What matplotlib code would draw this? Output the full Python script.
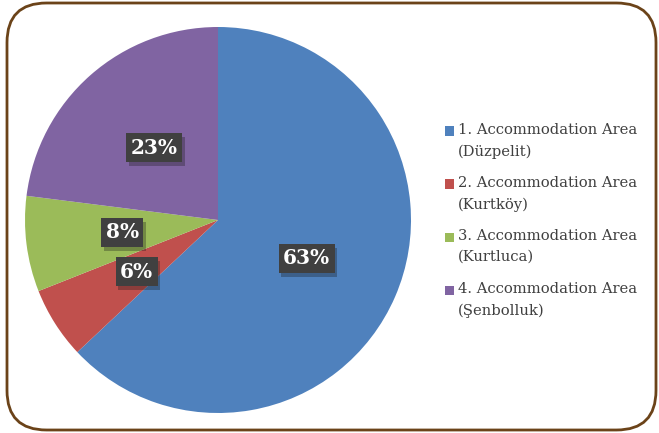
import matplotlib
matplotlib.use("Agg")
import matplotlib.pyplot as plt
import matplotlib.patheffects as pe
from matplotlib.patches import FancyBboxPatch, Rectangle

# data
areas = ["1. Accommodation Area\n(Düzpelit)",
         "2. Accommodation Area\n(Kurtköy)",
         "3. Accommodation Area\n(Kurtluca)",
         "4. Accommodation Area\n(Şenbolluk)"]
shares = [63, 6, 8, 23]
colors = ["#4F81BD", "#C0504D", "#9BBB59", "#8064A2"]

W, H = 659, 433
fig = plt.figure(figsize=(W / 100, H / 100), dpi=100)
fig.patch.set_facecolor("white")

# rounded brown frame
frame = FancyBboxPatch((7 / W, 3 / H), 649 / W, 427 / H,
                       boxstyle="round,pad=0,rounding_size=0.06",
                       transform=fig.transFigure, facecolor="none",
                       edgecolor="#6B4319", linewidth=2, mutation_aspect=W / H)
fig.patches.append(frame)

cx, cy, r = 218, 220, 193
ax = fig.add_axes([(cx - r) / W, (H - cy - r) / H, 2 * r / W, 2 * r / H])
wedges, texts, autotexts = ax.pie(shares, colors=colors, startangle=90,
                                  counterclock=False, radius=1,
                                  autopct="%d%%", pctdistance=0.5,
                                  wedgeprops=dict(linewidth=0))
ax.set_xlim(-1, 1)
ax.set_ylim(-1, 1)
ax.set_aspect("equal")

for t in autotexts:
    t.set_fontsize(14.5)
    t.set_fontweight("bold")
    t.set_family("DejaVu Serif")
    t.set_color("white")
    t.set_bbox(dict(boxstyle="square,pad=0.22", facecolor="#404040",
                    edgecolor="none"))
    t.get_bbox_patch().set_path_effects(
        [pe.SimplePatchShadow(offset=(2, -3), alpha=0.3), pe.Normal()])
    t.set_zorder(5)

# legend drawn by hand so the swatch sits on the first line
top = 131
for i, (lab, col) in enumerate(zip(areas, colors)):
    yy = top + i * 53
    fig.patches.append(Rectangle((445 / W, (H - yy - 4.5) / H), 9 / W, 9 / H,
                                 transform=fig.transFigure, facecolor=col,
                                 edgecolor="none"))
    fig.text(458 / W, (H - yy + 8) / H, lab, ha="left", va="top",
             fontsize=10.6, family="DejaVu Serif", color="#404040",
             linespacing=1.65)

fig.savefig("out.png", dpi=100)
